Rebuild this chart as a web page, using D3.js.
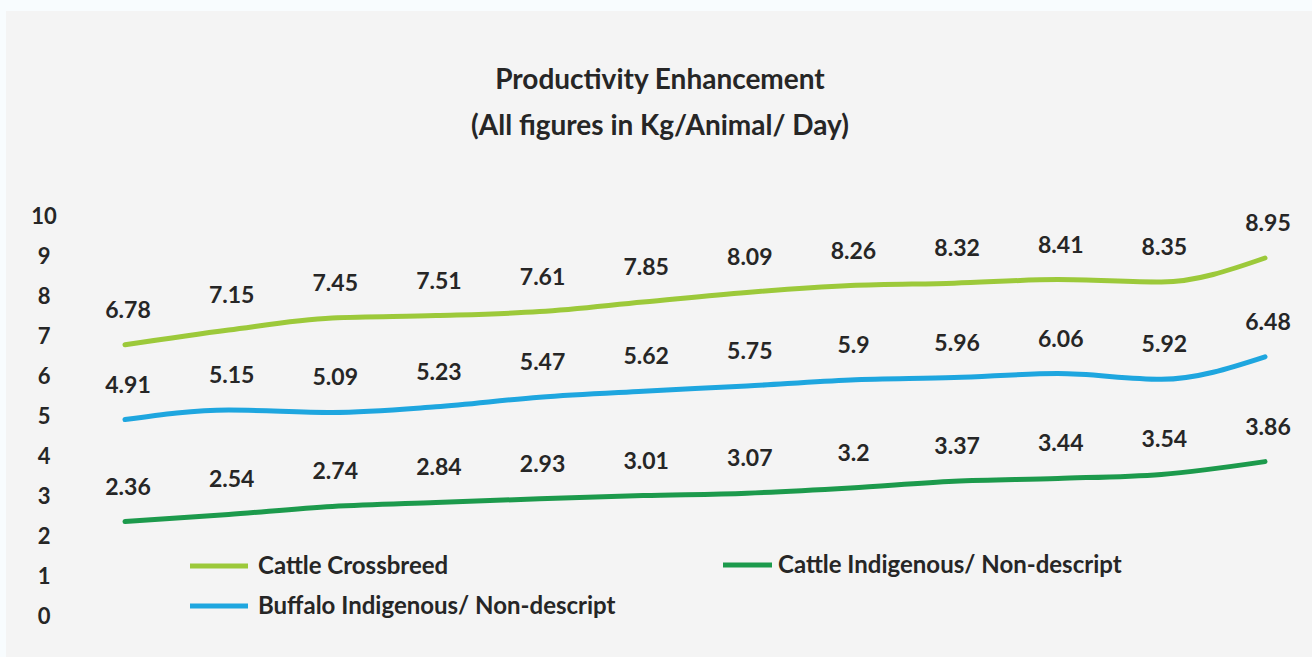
<!DOCTYPE html>
<html>
<head>
<meta charset="utf-8">
<script src="https://cdn.jsdelivr.net/npm/d3@7"></script>
<style>
  html, body { margin: 0; padding: 0; background: #f8fcfe; }
  svg { display: block; }
  text { font-family: Lato, "Open Sans", sans-serif; fill: #262626; }
</style>
</head>
<body>
<svg id="chart" width="1312" height="657"></svg>
<script>
const categories = ["1","2","3","4","5","6","7","8","9","10","11","12"];
const cattleCrossbreed = [6.78, 7.15, 7.45, 7.51, 7.61, 7.85, 8.09, 8.26, 8.32, 8.41, 8.35, 8.95];
const buffaloIndigenous = [4.91, 5.15, 5.09, 5.23, 5.47, 5.62, 5.75, 5.9, 5.96, 6.06, 5.92, 6.48];
const cattleIndigenous = [2.36, 2.54, 2.74, 2.84, 2.93, 3.01, 3.07, 3.2, 3.37, 3.44, 3.54, 3.86];
const yTicks = [0, 1, 2, 3, 4, 5, 6, 7, 8, 9, 10];
const titleLines = ["Productivity Enhancement", "(All figures in Kg/Animal/ Day)"];

const series = [
  { name: "Cattle Crossbreed", values: cattleCrossbreed, color: "#9cc93a" },
  { name: "Buffalo Indigenous/ Non-descript", values: buffaloIndigenous, color: "#1ea6df" },
  { name: "Cattle Indigenous/ Non-descript", values: cattleIndigenous, color: "#1c9a4c" }
];

const svg = d3.select("#chart");
svg.append("rect").attr("x", 6).attr("y", 11).attr("width", 1306).attr("height", 646).attr("fill", "#f4f4f4");

const x = d3.scalePoint().domain(categories).range([125, 1265]);
const y = d3.scaleLinear().domain([0, 10]).range([616, 216]);

// title
svg.append("g").selectAll("text").data(titleLines).join("text")
  .attr("x", 660).attr("y", (d, i) => 89 + i * 46)
  .attr("text-anchor", "middle")
  .attr("font-size", 28).attr("font-weight", 700)
  .attr("fill", "#2b2b2b")
  .text(d => d);

// y axis labels
const yAxis = d3.axisLeft(y).tickValues(yTicks).tickSize(0).tickPadding(0);
const yg = svg.append("g").attr("transform", "translate(44,0)").call(yAxis);
yg.select(".domain").remove();
yg.selectAll("text")
  .attr("text-anchor", "middle").attr("x", 0)
  .attr("font-size", 22).attr("font-weight", 700)
  .style("font-family", "Lato, sans-serif").attr("fill", "#262626");

const line = d3.line()
  .x((d, i) => x(categories[i]))
  .y(d => y(d))
  .curve(d3.curveMonotoneX);

series.forEach(s => {
  svg.append("path").datum(s.values)
    .attr("d", line)
    .attr("fill", "none")
    .attr("stroke", s.color)
    .attr("stroke-width", 5)
    .attr("stroke-linecap", "round");
  svg.append("g").selectAll("text").data(s.values).join("text")
    .attr("x", (d, i) => x(categories[i]) + 3)
    .attr("y", d => y(d) - 27)
    .attr("text-anchor", "middle")
    .attr("font-size", 23).attr("font-weight", 700)
    .text(d => d);
});

// legend
const legendItems = [
  { s: series[0], x1: 190, x2: 248, ly: 566, tx: 258 },
  { s: series[1], x1: 190, x2: 248, ly: 606, tx: 258 },
  { s: series[2], x1: 723, x2: 772, ly: 565, tx: 778 }
];
const lg = svg.append("g");
legendItems.forEach(l => {
  lg.append("line").attr("x1", l.x1).attr("x2", l.x2).attr("y1", l.ly).attr("y2", l.ly)
    .attr("stroke", l.s.color).attr("stroke-width", 5);
  lg.append("text").attr("x", l.tx).attr("y", l.ly + 8)
    .attr("font-size", 24).attr("font-weight", 700)
    .text(l.s.name);
});
</script>
</body>
</html>
